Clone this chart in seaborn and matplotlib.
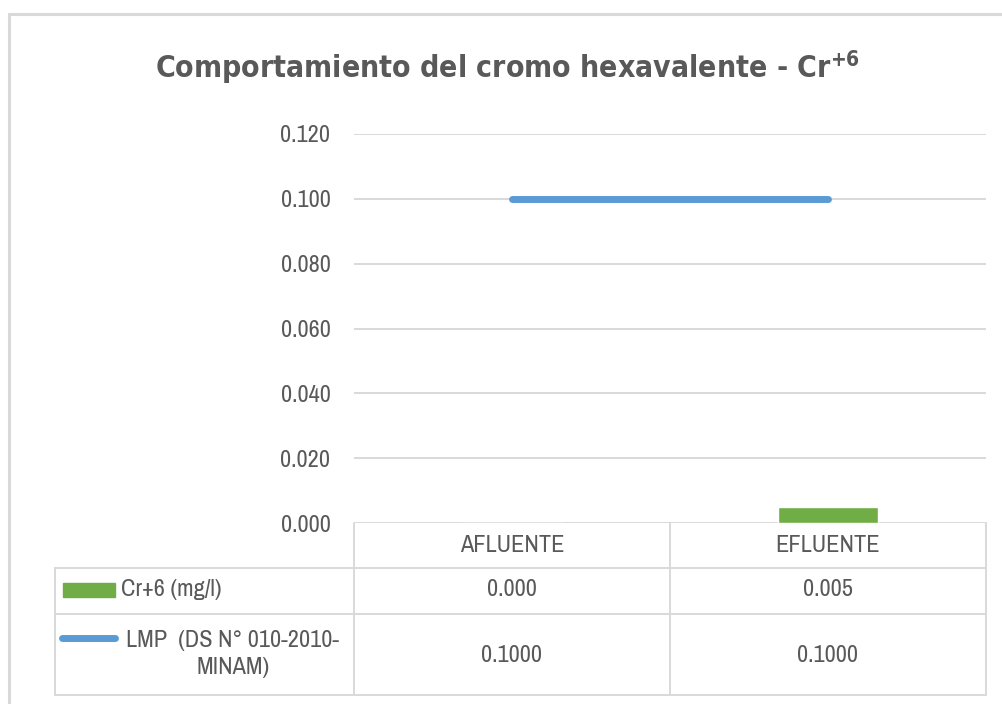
import matplotlib
matplotlib.use("Agg")
import matplotlib.pyplot as plt
import matplotlib.transforms as mtransforms
from matplotlib import font_manager
from matplotlib.lines import Line2D
from matplotlib.patches import Rectangle
from matplotlib.text import Text
import seaborn as sns
import pandas as pd

# ---- data ----
categories = ["AFLUENTE", "EFLUENTE"]
cr6_values = [0.000, 0.005]
lmp_values = [0.1000, 0.1000]
cr6_cells = ["0.000", "0.005"]
lmp_cells = ["0.1000", "0.1000"]
cr6_label = "Cr+6 (mg/l)"
lmp_label = "LMP  (DS N° 010-2010-\nMINAM)"
y_ticks = [0.000, 0.020, 0.040, 0.060, 0.080, 0.100, 0.120]
title = "Comportamiento del cromo hexavalente - Cr$^{+6}$"

GREEN = "#70ad47"
BLUE = "#5b9bd5"
TXT = "#595959"
GRID = "#d9d9d9"

sns.set_theme(style="white")

# choose a narrow / condensed sans font if one is installed
ttf = font_manager.fontManager.ttflist
family, stretch = "Liberation Sans", "normal"
narrow = [f for f in ttf if "Narrow" in f.name]
if narrow:
    family, stretch = narrow[0].name, "normal"
else:
    for pref in ["DejaVu Sans", "Noto Sans", "Open Sans", "Roboto", "Liberation Sans"]:
        c = [f for f in ttf if f.name == pref and str(f.stretch) in ("condensed", "semi-condensed")]
        if c:
            family, stretch = pref, "condensed"
            break


def is_bold(f):
    w = f.weight
    if isinstance(w, str):
        return w in ("bold", "heavy", "extra bold", "black", "demibold", "semibold")
    return w >= 600


# bold font for the title: condensed bold if available, else regular-width bold
tfam, tstretch = "Liberation Sans", "normal"
cb = [f for f in ttf if is_bold(f) and ("Narrow" in f.name or str(f.stretch) in ("condensed", "semi-condensed"))
      and f.name in ("Liberation Sans Narrow", "DejaVu Sans", "Noto Sans", "Open Sans", "Roboto", "Liberation Sans")]
if cb:
    tfam = cb[0].name
    tstretch = "normal" if "Narrow" in cb[0].name else "condensed"

plt.rcParams["font.family"] = [family, "DejaVu Sans"]
plt.rcParams["font.stretch"] = stretch
plt.rcParams["mathtext.default"] = "regular"

W, H = 1002, 704
fig = plt.figure(figsize=(W / 100, H / 100), dpi=100)
fig.patch.set_facecolor("white")
renderer = fig.canvas.get_renderer()

tfont = dict(family=[tfam, "DejaVu Sans"], fontweight="bold", fontstretch=tstretch)


def fit_size(s, target_px, **kw):
    t = fig.text(0, 0, s, fontsize=10, **kw)
    w = t.get_window_extent(renderer).width
    t.remove()
    return 10 * target_px / w


BASE = min(17.5, fit_size("LMP  (DS N° 010-2010-", 224))
TSIZE = min(28, fit_size(title, 708, **tfont))


def fx(px):
    return px / W


def fy(py):
    return 1 - py / H


ax = fig.add_axes([fx(354), fy(523), fx(986) - fx(354), fy(134) - fy(523)])
df = pd.DataFrame({"cat": categories, "cr6": cr6_values, "lmp": lmp_values})
sns.barplot(data=df, x="cat", y="cr6", color=GREEN, saturation=1, width=0.317, ax=ax, zorder=3)
sns.lineplot(data=df, x="cat", y="lmp", color=BLUE, lw=5, sort=False, ax=ax,
             solid_capstyle="round", zorder=4)

ax.set_xlim(-0.5, 1.5)
ax.set_ylim(0, 0.12)
ax.set_yticks(y_ticks)
ax.set_yticklabels([f"{v:.3f}" for v in y_ticks])
ax.set_xticks([])
ax.set_xlabel("")
ax.set_ylabel("")
for s in ax.spines.values():
    s.set_visible(False)
ax.yaxis.grid(True, color=GRID, lw=1.4, zorder=0)
ax.set_axisbelow(True)
ax.tick_params(axis="y", length=0, pad=17, labelsize=BASE, labelcolor=TXT)
ax.patch.set_alpha(0)

# title
fig.text(0.506, fy(68), title, ha="center", va="center", fontsize=TSIZE,
         color=TXT, **tfont)

# outer chart border
fig.add_artist(Line2D([fx(9), fx(9)], [fy(14), 0], transform=fig.transFigure, color=GRID, lw=2.2))
fig.add_artist(Line2D([fx(9), 1], [fy(14), fy(14)], transform=fig.transFigure, color=GRID, lw=2.2))

# data table
tr = mtransforms.blended_transform_factory(ax.transData, fig.transFigure)
lk = dict(color=GRID, lw=1.4)
for xv in [-0.5, 0.5, 1.5]:
    fig.add_artist(Line2D([xv, xv], [fy(523), fy(695)], transform=tr, **lk))
for yp in [568, 614, 695]:
    fig.add_artist(Line2D([fx(55), fx(986)], [fy(yp), fy(yp)], transform=fig.transFigure, **lk))
fig.add_artist(Line2D([fx(55), fx(55)], [fy(568), fy(695)], transform=fig.transFigure, **lk))

for i, c in enumerate(categories):
    fig.add_artist(Text(i, fy(546), c, transform=tr, ha="center", va="center",
                        fontsize=BASE, color=TXT))
    fig.add_artist(Text(i, fy(590), cr6_cells[i], transform=tr, ha="center", va="center",
                        fontsize=BASE, color=TXT))
    fig.add_artist(Text(i, fy(655), lmp_cells[i], transform=tr, ha="center", va="center",
                        fontsize=BASE, color=TXT))

# legend keys in table
fig.add_artist(Rectangle((fx(63), fy(597)), fx(115) - fx(63), fy(583) - fy(597),
                         transform=fig.transFigure, color=GREEN))
fig.add_artist(Line2D([fx(62), fx(115)], [fy(638), fy(638)], transform=fig.transFigure,
                      color=BLUE, lw=5, solid_capstyle="round"))
fig.text(fx(121), fy(590), cr6_label, ha="left", va="center", fontsize=BASE, color=TXT)
fig.text(fx(233), fy(654), lmp_label, ha="center", va="center", fontsize=BASE, color=TXT,
         multialignment="center", linespacing=1.4)

fig.savefig("out.png", dpi=100, facecolor="white")
